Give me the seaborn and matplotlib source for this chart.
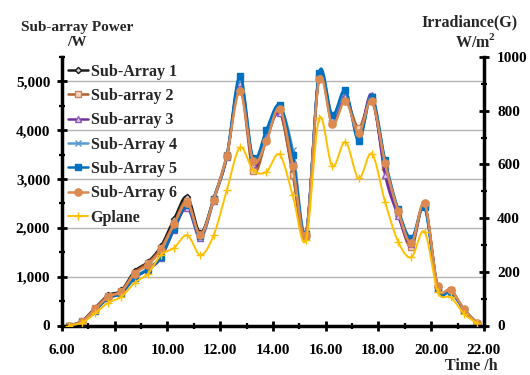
import numpy as np
import pandas as pd
import seaborn as sns
import matplotlib
matplotlib.use("Agg")
import matplotlib.pyplot as plt
from matplotlib import font_manager as fm
from matplotlib.ticker import MultipleLocator, FuncFormatter
from matplotlib.lines import Line2D

# ---------------- data ----------------
time_h = [6.25, 6.75, 7.25, 7.75, 8.25, 8.75, 9.25, 9.75, 10.25, 10.75, 11.25, 11.75,
          12.25, 12.75, 13.25, 13.75, 14.25, 14.75, 15.25, 15.75, 16.25, 16.75, 17.25,
          17.75, 18.25, 18.75, 19.25, 19.75, 20.25, 20.75, 21.25, 21.75]

sub_array_1 = [0, 90, 360, 620, 720, 1110, 1300, 1620, 2180, 2640, 1900, 2600, 3450, 5000,
               3260, 3850, 4400, 3150, 1820, 5120, 4200, 4700, 3950, 4650, 3200, 2300,
               1680, 2450, 780, 720, 320, 40]
sub_array_2 = [0, 85, 350, 600, 710, 1080, 1280, 1580, 2100, 2560, 1850, 2600, 3500, 4900,
               3160, 3800, 4380, 3090, 1840, 5080, 4150, 4650, 4050, 4600, 3250, 2300,
               1600, 2480, 780, 720, 320, 40]
sub_array_3 = [0, 70, 310, 560, 660, 970, 1140, 1380, 1960, 2410, 1790, 2560, 3450, 4970,
               3300, 3850, 4360, 3400, 1880, 5100, 4220, 4700, 3900, 4730, 3090, 2250,
               1660, 2450, 760, 700, 320, 40]
sub_array_4 = [0, 75, 320, 570, 670, 990, 1160, 1420, 2000, 2480, 1820, 2580, 3470, 5050,
               3400, 3950, 4480, 3600, 1900, 5150, 4280, 4780, 3800, 4700, 3350, 2350,
               1750, 2420, 760, 700, 330, 45]
sub_array_5 = [0, 70, 300, 560, 660, 970, 1150, 1400, 1980, 2460, 1830, 2600, 3480, 5110,
               3430, 4010, 4510, 3500, 1880, 5180, 4320, 4820, 3775, 4680, 3400, 2380,
               1790, 2420, 740, 680, 320, 40]
sub_array_6 = [0, 80, 330, 590, 695, 1060, 1240, 1550, 2080, 2510, 1860, 2580, 3480, 4800,
               3360, 3775, 4440, 3260, 1860, 5040, 4120, 4600, 3950, 4600, 3330, 2340,
               1690, 2500, 800, 730, 330, 45]
gplane = [0, 10, 45, 85, 107, 159, 192, 262, 289, 336, 262, 336, 504, 663, 578, 572, 637,
          485, 318, 771, 593, 684, 548, 640, 461, 312, 254, 349, 126, 105, 43, 8]

series_names = ["Sub-Array 1", "Sub-array 2", "Sub-array 3", "Sub-Array 4",
                "Sub-Array 5", "Sub-Array 6"]
series_values = [sub_array_1, sub_array_2, sub_array_3, sub_array_4, sub_array_5, sub_array_6]

x_ticks = [6, 8, 10, 12, 14, 16, 18, 20, 22]
left_ticks = [0, 1000, 2000, 3000, 4000, 5000]
right_ticks = [0, 200, 400, 600, 800, 1000]

# ---------------- styles ----------------
styles = [
    dict(color="#1a1a1a", marker="D", ms=3.2, mfc="#cfcfcf", mec="#1a1a1a"),
    dict(color="#B0602A", marker="s", ms=5.0, mfc="#F8D5BC", mec="#C8845A"),
    dict(color="#7030A0", marker="^", ms=5.0, mfc="#E3CCF2", mec="#8E5BB8"),
    dict(color="#5B9BD5", marker="x", ms=5.0, mfc="#5B9BD5", mec="#5B9BD5"),
    dict(color="#0070C0", marker="s", ms=4.6, mfc="#0070C0", mec="#0070C0"),
    dict(color="#DC8A50", marker="o", ms=5.2, mfc="#DC8A50", mec="#DC8A50"),
]
g_style = dict(color="#FFC000", marker="+", ms=6, mfc="#FFC000", mec="#FFC000")


def smooth(x, y, n=16):
    """Excel-like smoothed line: Bezier segments through the data points."""
    p = np.column_stack([np.asarray(x, float), np.asarray(y, float)])
    ext = np.vstack([p[0], p, p[-1]])
    out = []
    t = np.linspace(0, 1, n)[:, None]
    for i in range(len(p) - 1):
        p0, p1, p2, p3 = ext[i], ext[i + 1], ext[i + 2], ext[i + 3]
        c1 = p1 + (p2 - p0) / 6.0
        c2 = p2 - (p3 - p1) / 6.0
        seg = ((1 - t) ** 3) * p1 + 3 * ((1 - t) ** 2) * t * c1 + 3 * (1 - t) * t ** 2 * c2 + t ** 3 * p2
        out.append(seg if i == 0 else seg[1:])
    s = np.vstack(out)
    return s[:, 0], s[:, 1]


sns.set_theme(style="white")
available = {f.name for f in fm.fontManager.ttflist}
candidates = ["Liberation Serif", "Times New Roman", "Tinos", "Nimbus Roman",
              "Nimbus Roman No9 L", "FreeSerif", "TeX Gyre Termes", "STIXGeneral",
              "DejaVu Serif Condensed", "DejaVu Serif"]
chosen = [c for c in candidates if c in available]
plt.rcParams["font.family"] = chosen[:1] + ["DejaVu Serif"]
plt.rcParams["font.weight"] = "bold"
plt.rcParams["mathtext.fontset"] = "custom"
plt.rcParams["mathtext.bf"] = (chosen[0] if chosen else "DejaVu Serif") + ":bold"

fig = plt.figure(figsize=(5.3, 3.75), dpi=100)
ax = fig.add_axes([0.117, 0.132, 0.796, 0.716])
ax2 = ax.twinx()

handles = []
for name, vals, st in zip(series_names, series_values, styles):
    sx, sy = smooth(time_h, vals)
    sns.lineplot(x=sx, y=sy, ax=ax, color=st["color"], lw=1.8, sort=False,
                 estimator=None, legend=False)
    sns.lineplot(x=time_h, y=vals, ax=ax, color=st["color"], linestyle="none",
                 marker=st["marker"], markersize=st["ms"], markerfacecolor=st["mfc"],
                 markeredgecolor=st["mec"], markeredgewidth=1.0, estimator=None,
                 legend=False)
    handles.append(Line2D([], [], color=st["color"], lw=1.8, marker=st["marker"],
                          markersize=st["ms"], markerfacecolor=st["mfc"],
                          markeredgecolor=st["mec"], markeredgewidth=1.0, label=name))

gx, gy = smooth(time_h, gplane)
sns.lineplot(x=gx, y=gy, ax=ax2, color=g_style["color"], lw=1.4, sort=False,
             estimator=None, legend=False)
sns.lineplot(x=time_h, y=gplane, ax=ax2, color=g_style["color"], linestyle="none",
             marker="+", markersize=g_style["ms"], markeredgecolor=g_style["mec"],
             markeredgewidth=1.0, estimator=None, legend=False)
handles.append(Line2D([], [], color=g_style["color"], lw=1.4, marker="+",
                      markersize=g_style["ms"], markeredgecolor=g_style["mec"],
                      markeredgewidth=1.0, label="Gplane"))

# axes limits / ticks
ax.set_xlim(6, 22)
ax.set_ylim(0, 5500)
ax2.set_ylim(0, 1000)
ax.set_xticks(x_ticks)
ax.xaxis.set_minor_locator(MultipleLocator(1))
ax.set_yticks(left_ticks)
ax.yaxis.set_minor_locator(MultipleLocator(500))
ax2.set_yticks(right_ticks)
ax2.yaxis.set_minor_locator(MultipleLocator(100))
ax.xaxis.set_major_formatter(FuncFormatter(lambda v, p: f"{v:.2f}"))
ax.yaxis.set_major_formatter(FuncFormatter(lambda v, p: f"{v:,.0f}"))
ax2.yaxis.set_major_formatter(FuncFormatter(lambda v, p: f"{v:.0f}"))

ax.set_xlabel("")
ax.set_ylabel("")
ax2.set_ylabel("")

ax.yaxis.grid(True, color="#b4b4b4", lw=1.0)
ax.xaxis.grid(False)
ax.set_axisbelow(True)

for a in (ax, ax2):
    a.spines["top"].set_visible(False)
ax.spines["right"].set_visible(False)
ax2.spines["left"].set_visible(False)
ax2.spines["bottom"].set_visible(False)
for sp in (ax.spines["left"], ax.spines["bottom"], ax2.spines["right"]):
    sp.set_color("black")
    sp.set_linewidth(2.5)

ax.tick_params(axis="both", which="major", direction="inout", length=7, width=2,
               color="black", labelsize=11, labelcolor="black")
ax.tick_params(axis="both", which="minor", direction="inout", length=5, width=1.6,
               color="black")
ax.tick_params(axis="x", which="both", bottom=True, pad=10)
ax.tick_params(axis="y", which="both", left=True, pad=5)
ax2.tick_params(axis="y", which="major", direction="inout", length=7, width=2,
                color="black", labelsize=11, labelcolor="black", pad=6, right=True)
ax2.tick_params(axis="y", which="minor", direction="inout", length=5, width=1.6,
                color="black", right=True)
for lbl in ax.get_xticklabels() + ax.get_yticklabels() + ax2.get_yticklabels():
    lbl.set_fontweight("bold")

leg = ax2.legend(handles=handles, loc="upper left", bbox_to_anchor=(0.015, 0.975),
                 frameon=False, fontsize=11.5, handlelength=1.2, handletextpad=0.2,
                 labelspacing=0.52, borderpad=0, borderaxespad=0)
for t in leg.get_texts():
    t.set_fontweight("bold")

# axis titles
fig.text(77 / 530, 1 - 27 / 375, "Sub-array Power", ha="center", va="center",
         fontsize=11, fontweight="bold")
fig.text(77 / 530, 1 - 43 / 375, "/W", ha="center", va="center",
         fontsize=11, fontweight="bold")
fig.text(470 / 530, 1 - 22 / 375, "Irradiance(G)", ha="center", va="center",
         fontsize=11.5, fontweight="bold")
fig.text(476 / 530, 1 - 42 / 375, "W/m$^{\\mathbf{2}}$", ha="center", va="center",
         fontsize=11.5, fontweight="bold")
fig.text(498 / 530, 1 - 366 / 375, "Time /h", ha="right", va="center",
         fontsize=11.5, fontweight="bold")

fig.savefig("out.png", dpi=100)
